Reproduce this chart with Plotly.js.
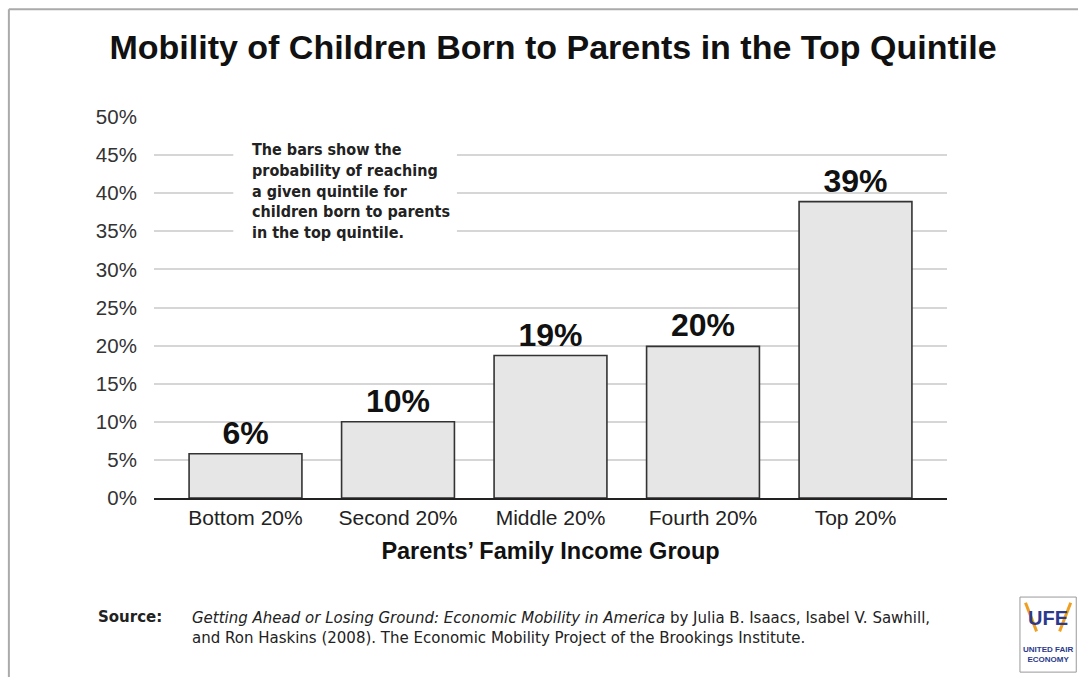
<!DOCTYPE html>
<html>
<head>
<meta charset="utf-8">
<script src="https://cdn.plot.ly/plotly-3.0.1.min.js"></script>
<style>
html,body{margin:0;padding:0;background:#fff;}
#chart{width:1078px;height:677px;}
</style>
</head>
<body>
<div id="chart"></div>
<script>
const categories = ["Bottom 20%", "Second 20%", "Middle 20%", "Fourth 20%", "Top 20%"];
const values = [5.8, 10.0, 18.7, 19.9, 38.9];
const valueLabels = ["6%", "10%", "19%", "20%", "39%"];
const yTickVals = [0, 5, 10, 15, 20, 25, 30, 35, 40, 45, 50];
const yTickText = ["0%", "5%", "10%", "15%", "20%", "25%", "30%", "35%", "40%", "45%", "50%"];

const FONT = "Liberation Sans, Arial, sans-serif";

const trace = {
  type: "bar",
  x: categories,
  y: values,
  text: valueLabels,
  textposition: "outside",
  cliponaxis: false,
  textfont: {family: FONT, size: 32, color: "#111", weight: "bold"},
  marker: {color: "#e6e6e6", line: {color: "#333", width: 1.6}},
  width: 0.74,
  hoverinfo: "skip"
};

const layout = {
  width: 1078,
  height: 677,
  paper_bgcolor: "#fff",
  plot_bgcolor: "#fff",
  showlegend: false,
  margin: {l: 154, r: 131, t: 117, b: 179},
  title: {
    text: "<b>Mobility of Children Born to Parents in the Top Quintile</b>",
    font: {family: FONT, size: 34, color: "#111"},
    x: 0.513, xanchor: "center",
    y: 0.93, yanchor: "middle"
  },
  xaxis: {
    range: [-0.6, 4.6],
    tickfont: {family: FONT, size: 21, color: "#222"},
    showgrid: false,
    showline: true, linecolor: "#222", linewidth: 2,
    ticks: "", 
    title: {
      text: "<b>Parents\u2019 Family Income Group</b>",
      font: {family: FONT, size: 23.5, color: "#111"},
      standoff: 14
    },
    fixedrange: true
  },
  yaxis: {
    range: [0, 50],
    tickvals: yTickVals,
    ticktext: yTickText,
    tickfont: {family: FONT, size: 20.5, color: "#333"},
    showgrid: true, gridcolor: "#d6d6d6", gridwidth: 2,
    zeroline: false,
    showline: false,
    ticks: "outside", ticklen: 12, tickcolor: "rgba(0,0,0,0)",
    fixedrange: true
  },
  shapes: [
    // white box behind note
    {type: "rect", xref: "paper", yref: "paper", x0: 0.10, x1: 0.382, y0: 0.665, y1: 0.96,
     fillcolor: "#fff", line: {width: 0}, layer: "above"},
    // frame lines
    {type: "line", xref: "paper", yref: "paper", x0: -0.183, x1: 1.2, y0: 1.283, y1: 1.283,
     line: {color: "#aaa", width: 2}},
    {type: "line", xref: "paper", yref: "paper", x0: -0.183, x1: -0.183, y0: 1.283, y1: -0.5,
     line: {color: "#aaa", width: 2}},
    // logo box
    {type: "rect", xref: "paper", yref: "paper", x0: 1.092, x1: 1.163, y0: -0.26, y1: -0.457,
     fillcolor: "#fff", line: {color: "#999", width: 1}},
    {type: "line", xref: "paper", yref: "paper", x0: 1.099, x1: 1.113, y0: -0.275, y1: -0.35,
     line: {color: "#f0a020", width: 3}},
    {type: "line", xref: "paper", yref: "paper", x0: 1.156, x1: 1.142, y0: -0.275, y1: -0.35,
     line: {color: "#f0a020", width: 3}}
  ],
  annotations: [
    {
      xref: "paper", yref: "paper", x: 0.121, y: 0.946, xanchor: "left", yanchor: "top",
      align: "left", showarrow: false,
      text: "<b>The bars show the<br>probability of reaching<br>a given quintile for<br>children born to parents<br>in the top quintile.</b>",
      font: {family: "DejaVu Sans Condensed, DejaVu Sans, sans-serif", size: 16, color: "#222"}
    },
    {
      xref: "paper", yref: "paper", x: -0.073, y: -0.313, xanchor: "left", yanchor: "middle",
      showarrow: false, align: "left",
      text: "<b>Source:</b>",
      font: {family: "DejaVu Sans, sans-serif", size: 15, color: "#222"}
    },
    {
      xref: "paper", yref: "paper", x: 0.046, y: -0.287, xanchor: "left", yanchor: "top",
      showarrow: false, align: "left",
      text: "<i>Getting Ahead or Losing Ground: Economic Mobility in America</i> by Julia B. Isaacs, Isabel V. Sawhill,<br>and Ron Haskins (2008). The Economic Mobility Project of the Brookings Institute.",
      font: {family: "DejaVu Sans, sans-serif", size: 15, color: "#222"}
    },
    {
      xref: "paper", yref: "paper", x: 1.1275, y: -0.315, xanchor: "center", yanchor: "middle",
      showarrow: false, text: "<b>UFE</b>",
      font: {family: FONT, size: 20, color: "#2b3a8c"}
    },
    {
      xref: "paper", yref: "paper", x: 1.1275, y: -0.41, xanchor: "center", yanchor: "middle",
      showarrow: false, text: "<b>UNITED FAIR<br>ECONOMY</b>",
      font: {family: FONT, size: 8, color: "#2b3a8c"}
    }
  ]
};

Plotly.newPlot("chart", [trace], layout, {displayModeBar: false, staticPlot: true});
</script>
</body>
</html>
